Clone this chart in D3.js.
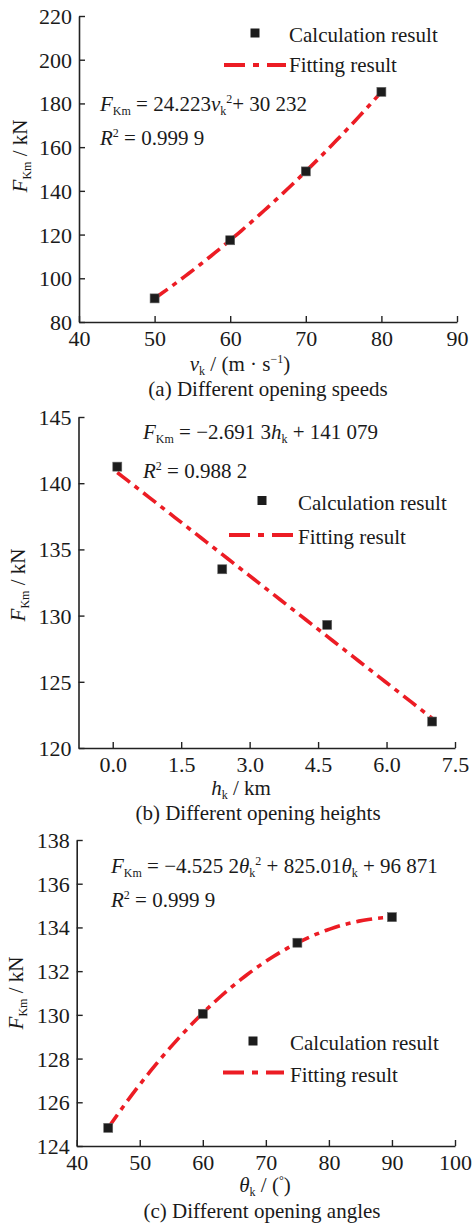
<!DOCTYPE html>
<html>
<head>
<meta charset="utf-8">
<script src="https://cdn.jsdelivr.net/npm/d3@7/dist/d3.min.js"></script>
<style>
  html, body { margin: 0; padding: 0; background: #fff; }
  svg { display: block; }
  svg text { font-family: "Liberation Serif", "Times New Roman", serif !important; fill: #1a1a1a; }
</style>
</head>
<body>
<svg id="chart" width="475" height="1224"></svg>
<script>
// ---- Data (values in kN) ----
const speedX = [50, 60, 70, 80];                 // v_k, m/s
const speedF = [90.8, 117.4, 148.9, 185.3];
const speedFit = [0.024223, 0, 30.232];           // quadratic coefficients (kN)
const speedTicksX = [40, 50, 60, 70, 80, 90];
const speedTicksY = [80, 100, 120, 140, 160, 180, 200, 220];

const heightX = [0.1, 2.4, 4.7, 7.0];             // h_k, km
const heightF = [141.25, 133.5, 129.3, 122.0];
const heightFit = [0, -2.6913, 141.079];           // linear coefficients (kN)
const heightTicksX = [0.0, 1.5, 3.0, 4.5, 6.0, 7.5];
const heightTicksY = [120, 125, 130, 135, 140, 145];

const angleX = [45, 60, 75, 90];                  // theta_k, degrees
const angleF = [124.83, 130.05, 133.3, 134.47];
const angleFit = [-0.0045252, 0.82501, 96.871];   // quadratic coefficients (kN)
const angleTicksX = [40, 50, 60, 70, 80, 90, 100];
const angleTicksY = [124, 126, 128, 130, 132, 134, 136, 138];

const svg = d3.select("#chart");
const RED = "#ec1c24";
const FS = 22;

// Writes a run of text segments (italic / subscript / superscript) into a <text>
function rich(textSel, segs) {
  let shift = 0;
  segs.forEach(s => {
    const target = s.sub ? 4 : s.sup ? -8 : 0;
    const ts = textSel.append("tspan").text(s.t);
    if (target !== shift) { ts.attr("dy", target - shift); shift = target; }
    if (s.i) ts.attr("font-style", "italic");
    if (s.sub || s.sup) ts.attr("font-size", s.fs || 12);
  });
  return textSel;
}

function panel(cfg) {
  const g = svg.append("g");
  const x = d3.scaleLinear().domain(cfg.xDomain).range(cfg.xRange);
  const y = d3.scaleLinear().domain(cfg.yDomain).range(cfg.yRange);
  const y0 = cfg.yRange[0], x0 = cfg.xRange[0];

  // axes with inward ticks
  const xa = g.append("g").attr("transform", `translate(0,${y0})`)
    .call(d3.axisBottom(x).tickValues(cfg.xTicks).tickSizeInner(-6).tickSizeOuter(0)
      .tickPadding(8).tickFormat(cfg.xFmt));
  const ya = g.append("g").attr("transform", `translate(${x0},0)`)
    .call(d3.axisLeft(y).tickValues(cfg.yTicks).tickSizeInner(-6).tickSizeOuter(0)
      .tickPadding(7).tickFormat(d3.format("d")));
  [xa, ya].forEach(a => {
    a.attr("font-family", null).attr("font-size", null);
    a.select(".domain").attr("stroke", "#222").attr("stroke-width", 1.6);
    a.selectAll(".tick line").attr("stroke", "#222").attr("stroke-width", 1.4);
    a.selectAll(".tick text").style("font-size", FS + "px").attr("fill", "#1a1a1a");
  });
  xa.selectAll(".tick text").attr("dy", "0.71em");
  ya.selectAll(".tick text").attr("dy", "0.34em");

  // fitted curve
  const c = cfg.fit;
  const [a0, a1] = d3.extent(cfg.xs);
  const line = d3.line().x(d => x(d)).y(d => y(c[0] * d * d + c[1] * d + c[2]));
  g.append("path")
    .attr("d", line(d3.range(a0, a1 + 1e-9, (a1 - a0) / 60)))
    .attr("fill", "none").attr("stroke", RED).attr("stroke-width", 3.6)
    .attr("stroke-dasharray", "16 6 5 6");

  // calculated points
  g.selectAll("rect.pt").data(cfg.xs).join("rect").attr("class", "pt")
    .attr("x", (d) => x(d) - 4.5).attr("y", (d, i) => y(cfg.ys[i]) - 4.5)
    .attr("width", 9).attr("height", 9)
    .attr("fill", "#1c1c1c").attr("stroke", "#666").attr("stroke-width", 0.6);

  // legend
  const L = cfg.legend;
  g.append("rect").attr("x", L.mx - 4.5).attr("y", L.my - 4.5).attr("width", 9).attr("height", 9)
    .attr("fill", "#1c1c1c");
  g.append("text").attr("x", L.tx).attr("y", L.ty1).attr("font-size", 21).text("Calculation result");
  g.append("line").attr("x1", L.lx1).attr("x2", L.lx2).attr("y1", L.ly).attr("y2", L.ly)
    .attr("stroke", RED).attr("stroke-width", 3.8).attr("stroke-dasharray", "21 8 6 8");
  g.append("text").attr("x", L.tx).attr("y", L.ty2).attr("font-size", 21).text("Fitting result");

  // fit equation and R^2
  rich(g.append("text").attr("x", cfg.eq.x).attr("y", cfg.eq.y1).attr("font-size", 21), cfg.eq.segs);
  rich(g.append("text").attr("x", cfg.eq.x).attr("y", cfg.eq.y2).attr("font-size", 21),
    [{ t: "R", i: true }, { t: "2", sup: true }, { t: " = " + cfg.eq.r2 }]);

  // axis titles
  rich(g.append("text").attr("text-anchor", "middle")
    .attr("transform", `translate(${cfg.yTitle[0]},${cfg.yTitle[1]}) rotate(-90)`)
    .attr("font-size", 21),
    [{ t: "F", i: true }, { t: "Km", sub: true }, { t: " / kN" }]);
  rich(g.append("text").attr("text-anchor", "middle")
    .attr("x", cfg.xTitle[0]).attr("y", cfg.xTitle[1]).attr("font-size", 21), cfg.xTitleSegs);
  g.append("text").attr("text-anchor", "middle")
    .attr("x", cfg.caption[0]).attr("y", cfg.caption[1]).attr("font-size", 21).text(cfg.captionText);
}

panel({
  xDomain: [40, 90], xRange: [79, 457], yDomain: [80, 220], yRange: [322, 16],
  xTicks: speedTicksX, yTicks: speedTicksY, xFmt: d3.format("d"),
  xs: speedX, ys: speedF, fit: speedFit,
  legend: { mx: 255, my: 33, tx: 289, ty1: 42, ty2: 72, lx1: 224, lx2: 286, ly: 65 },
  eq: {
    x: 100, y1: 111, y2: 145, r2: "0.999 9",
    segs: [{ t: "F", i: true }, { t: "Km", sub: true }, { t: " = 24.223" }, { t: "v", i: true },
      { t: "k", sub: true }, { t: "2", sup: true }, { t: "+ 30 232" }]
  },
  yTitle: [27, 156],
  xTitle: [240, 371],
  xTitleSegs: [{ t: "v", i: true }, { t: "k", sub: true }, { t: " / (m · s" }, { t: "−1", sup: true }, { t: ")" }],
  caption: [268, 396], captionText: "(a) Different opening speeds"
});

panel({
  xDomain: [-0.75, 7.5], xRange: [78.5, 455], yDomain: [120, 145], yRange: [748, 417],
  xTicks: heightTicksX, yTicks: heightTicksY, xFmt: d3.format(".1f"),
  xs: heightX, ys: heightF, fit: heightFit,
  legend: { mx: 262, my: 500.5, tx: 298, ty1: 510, ty2: 544, lx1: 229, lx2: 295, ly: 535 },
  eq: {
    x: 143, y1: 439, y2: 478, r2: "0.988 2",
    segs: [{ t: "F", i: true }, { t: "Km", sub: true }, { t: " = −2.691 3" }, { t: "h", i: true },
      { t: "k", sub: true }, { t: " + 141 079" }]
  },
  yTitle: [25, 585],
  xTitle: [241, 795],
  xTitleSegs: [{ t: "h", i: true }, { t: "k", sub: true }, { t: " / km" }],
  caption: [258, 820], captionText: "(b) Different opening heights"
});

panel({
  xDomain: [40, 100], xRange: [76.7, 455], yDomain: [124, 138], yRange: [1146, 840],
  xTicks: angleTicksX, yTicks: angleTicksY, xFmt: d3.format("d"),
  xs: angleX, ys: angleF, fit: angleFit,
  legend: { mx: 253, my: 1041, tx: 290, ty1: 1050, ty2: 1082, lx1: 223, lx2: 284, ly: 1072.5 },
  eq: {
    x: 111, y1: 873, y2: 907, r2: "0.999 9",
    segs: [{ t: "F", i: true }, { t: "Km", sub: true }, { t: " = −4.525 2" }, { t: "θ", i: true },
      { t: "k", sub: true }, { t: "2", sup: true }, { t: " + 825.01" }, { t: "θ", i: true },
      { t: "k", sub: true }, { t: " + 96 871" }]
  },
  yTitle: [23, 993],
  xTitle: [265, 1192],
  xTitleSegs: [{ t: "θ", i: true }, { t: "k", sub: true }, { t: " / (" }, { t: "°", sup: true }, { t: ")" }],
  caption: [262, 1218], captionText: "(c) Different opening angles"
});
</script>
</body>
</html>
